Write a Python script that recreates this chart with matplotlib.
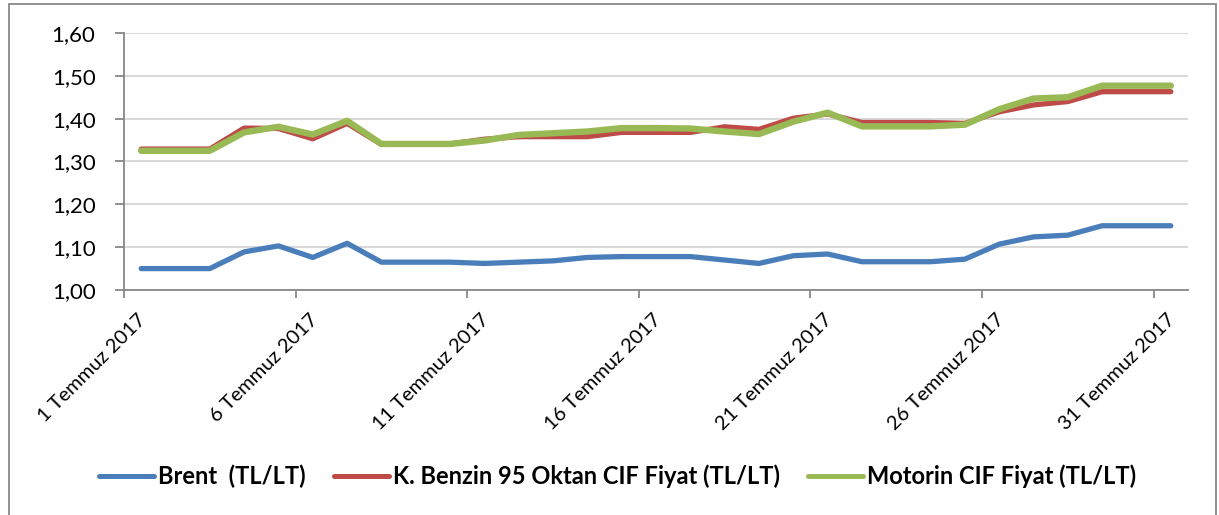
import matplotlib
matplotlib.use("Agg")
import matplotlib.pyplot as plt
from matplotlib.patches import Rectangle
from matplotlib.transforms import ScaledTranslation

plt.rcParams['font.family'] = ['Lato', 'DejaVu Sans']

days = list(range(1, 32))
tick_days = [1, 6, 11, 16, 21, 26, 31]
tick_labels = [f"{d} Temmuz 2017" for d in tick_days]

brent = [1.050, 1.050, 1.050, 1.089, 1.103, 1.076, 1.109, 1.065, 1.065, 1.065,
         1.062, 1.065, 1.068, 1.076, 1.078, 1.078, 1.078, 1.070, 1.062, 1.080,
         1.084, 1.066, 1.066, 1.066, 1.072, 1.107, 1.124, 1.128, 1.150, 1.150, 1.150]
benzin = [1.329, 1.329, 1.329, 1.378, 1.377, 1.353, 1.389, 1.340, 1.340, 1.341,
          1.352, 1.358, 1.358, 1.358, 1.368, 1.368, 1.368, 1.381, 1.375, 1.401,
          1.411, 1.391, 1.391, 1.391, 1.389, 1.416, 1.432, 1.440, 1.463, 1.463, 1.463]
motorin = [1.325, 1.325, 1.325, 1.368, 1.381, 1.363, 1.395, 1.341, 1.341, 1.341,
           1.349, 1.362, 1.366, 1.370, 1.378, 1.378, 1.377, 1.370, 1.364, 1.393,
           1.414, 1.382, 1.382, 1.382, 1.386, 1.422, 1.447, 1.450, 1.477, 1.477, 1.477]

series_names = ["Brent  (TL/LT)", "K. Benzin 95 Oktan CIF Fiyat (TL/LT)", "Motorin CIF Fiyat (TL/LT)"]
colors = ["#4A7EBB", "#BE4B48", "#98B954"]

W, H = 1219, 515
fig = plt.figure(figsize=(W / 100, H / 100), dpi=100)
fig.patches.append(Rectangle((9 / W, -0.1), (1216 - 9) / W, 1.1 - 3.5 / H,
                             transform=fig.transFigure, fill=False,
                             edgecolor="#888888", linewidth=1.3, zorder=0))

ax = fig.add_axes([124 / W, 1 - 290 / H, (1188 - 124) / W, (290 - 33) / H])

ax.plot(days, brent, color=colors[0], lw=3.8, solid_capstyle='round', label=series_names[0], zorder=3)
ax.plot(days, benzin, color=colors[1], lw=3.8, solid_capstyle='round', label=series_names[1], zorder=3)
ax.plot(days, motorin, color=colors[2], lw=4.6, solid_capstyle='round', label=series_names[2], zorder=4)

ax.set_xlim(0.5, 31.5)
ax.set_ylim(1.0, 1.6)
yt = [1.0, 1.1, 1.2, 1.3, 1.4, 1.5, 1.6]
ax.set_yticks(yt)
ax.set_yticklabels([f"{v:.2f}".replace('.', ',') for v in yt], fontsize=16)
ax.yaxis.grid(True, color="#D9D9D9", lw=1.5)
ax.set_axisbelow(True)

ax.set_xticks(tick_days)
ax.set_xticklabels(tick_labels, rotation=45, ha='right', va='top', rotation_mode='anchor', fontsize=14.5)
ax.tick_params(axis='x', which='major', length=0, pad=15)
offset = ScaledTranslation(-4 / 100, 0, fig.dpi_scale_trans)
for lab in ax.get_xticklabels():
    lab.set_transform(lab.get_transform() + offset)
ax.set_xticks([0.5 + 5 * i for i in range(7)], minor=True)
ax.tick_params(axis='x', which='minor', length=6, width=1.3, color="#888888", direction='out')
ax.tick_params(axis='y', length=6.5, width=1.3, color="#888888", direction='out', pad=14)

for s in ['top', 'right']:
    ax.spines[s].set_visible(False)
for s in ['left', 'bottom']:
    ax.spines[s].set_color("#888888")
    ax.spines[s].set_linewidth(1.3)

leg = fig.legend(loc='center', bbox_to_anchor=(617.5 / W, 1 - 476 / H), ncol=3, frameon=False,
                 prop={'weight': 'bold', 'size': 17}, handlelength=2.33, handletextpad=0.17,
                 columnspacing=1.18)
for line in leg.get_lines():
    line.set_linewidth(3.6)

fig.savefig("out.png", dpi=100)
